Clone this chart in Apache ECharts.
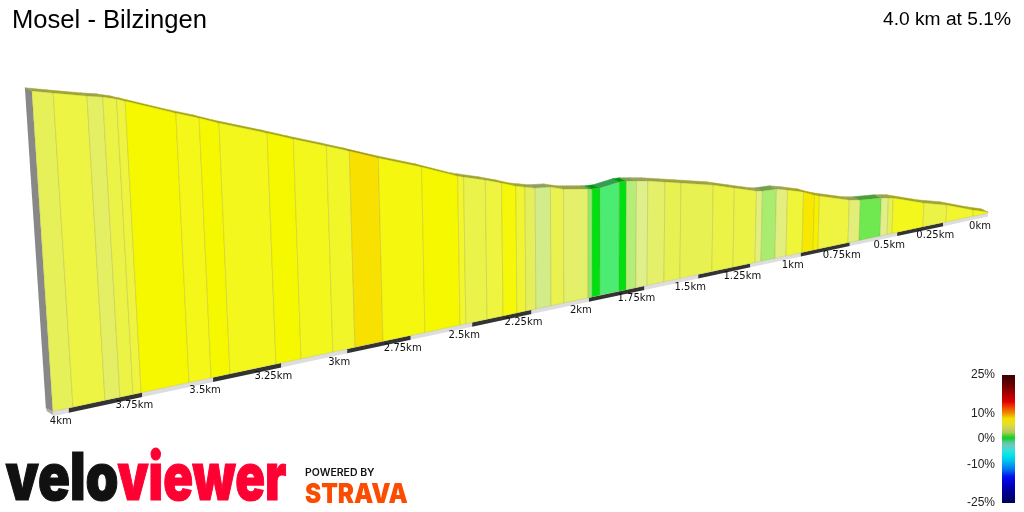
<!DOCTYPE html>
<html lang="en">
<head>
<meta charset="UTF-8">
<title>Mosel - Bilzingen</title>
<script src="https://cdn.jsdelivr.net/npm/echarts@6/dist/echarts.min.js"></script>
<style>
    html, body { margin: 0; padding: 0; background: #fff; }
    #chart { width: 1024px; height: 512px; }
</style>
</head>
<body>
<div id="chart"></div>
<script>
// slice boundaries: distance to the top of the profile (km) and height above the foot (m)
var sliceKm = [4.053, 3.986, 3.878, 3.827, 3.782, 3.754, 3.586, 3.507, 3.439, 3.270, 3.176, 3.055, 2.970,
    2.860, 2.693, 2.550, 2.526, 2.438, 2.371, 2.312, 2.274, 2.231, 2.166, 2.110, 2.004, 1.986, 1.951, 1.866,
    1.834, 1.789, 1.738, 1.660, 1.586, 1.435, 1.334, 1.227, 1.198, 1.129, 1.074, 0.994, 0.938, 0.913, 0.759,
    0.702, 0.591, 0.554, 0.528, 0.361, 0.235, 0.085, 0];
var sliceHeight = [204.1, 201.1, 196.4, 194.5, 192.0, 190.0, 177.7, 172.4, 167.2, 155.9, 149.3, 141.2, 135.3,
    127.4, 116.3, 105.7, 104.4, 99.6, 95.5, 91.5, 89.7, 87.7, 86.4, 83.3, 80.2, 79.6, 79.3, 81.2,
    81.0, 79.7, 78.2, 75.1, 72.2, 66.1, 60.8, 55.3, 54.4, 53.9, 51.5, 47.5, 43.4, 41.9, 34.0,
    32.3, 30.5, 29.4, 28.6, 19.4, 13.9, 5.1, 0.8];
// gradient of each slice (%)
var sliceGradient = [3.7, 4.3, 3.5, 4.2, 4.4, 5.6, 5.1, 5.6, 5, 5.6, 5, 4.8, 7,
    5.3, 5.6, 4.7, 4.1, 4.4, 5.4, 4.6, 3.6, 2.5, 4, 3.4, 1.4, 0, 0.6, 0,
    2.1, 2.9, 3.4, 3.9, 3.9, 4.2, 4.2, 3.1, 1.8, 3.1, 4.5, 6.5, 6, 4.4,
    3.2, 1, 2.9, 3.8, 5, 4.2, 4.7, 5];
var rampValues = [0, 0.6, 1, 1.4, 1.8, 2.1, 2.5, 2.9, 3.2, 3.6, 4, 4.4, 5, 5.6, 6.5, 7];
var rampColors = ['#00e011', '#4ceb72', '#70e850', '#8eea6e', '#aaec6f', '#b5ed78', '#d3ec8a', '#dff08a',
    '#e3ee78', '#e5ef5c', '#e9f24e', '#eef43f', '#f3f71c', '#f6f800', '#f8e800', '#f8e000'];
// distance ticks
var tickKm = [4, 3.75, 3.5, 3.25, 3, 2.75, 2.5, 2.25, 2, 1.75, 1.5, 1.25, 1, 0.75, 0.5, 0.25, 0];
var tickLabels = ['4km', '3.75km', '3.5km', '3.25km', '3km', '2.75km', '2.5km', '2.25km', '2km', '1.75km',
    '1.5km', '1.25km', '1km', '0.75km', '0.5km', '0.25km', '0km'];
// colour scale
var scaleValues = [25, 21, 17.8, 14.6, 12, 10, 8, 6, 4.2, 2.5, 1, 0.3, -1, -2.3, -4, -6.2, -9, -12, -14.7, -18, -22, -25];
var scaleColors = ['#3c0000', '#6a0000', '#a50000', '#e00000', '#f05000', '#f09000', '#f0e000', '#e8e020',
    '#d0d060', '#a8cc50', '#30d030', '#10d020', '#50c890', '#70c8b8', '#40dcd8', '#00e8e8',
    '#00b8f0', '#0070f0', '#0010f0', '#0000c0', '#000080', '#00005a'];
var scaleTicks = [-25, -10, 0, 10, 25];

// perspective of the 3D profile
function scaleAt(km) { return 1 / (1 - 0.05817 * km); }
function baseX(km) { return (988 - 233.8 * km) * scaleAt(km); }
function baseY(km) { return 213 + 0.2122 * (988 - baseX(km)); }
function topPoint(km, h) {
    var height = 1.2 * h * scaleAt(km);
    var x = baseX(km);
    return [x - (590 - x) * height / 8200, baseY(km) - height];
}
function backOf(p) { return [p[0] - 7, p[1] - 3.2]; }

function hexToRgb(c) {
    return [1, 3, 5].map(function (i) { return parseInt(c.substr(i, 2), 16); });
}
function gradientColor(g) {
    var i = 0;
    while (i < rampValues.length - 2 && g > rampValues[i + 1]) i++;
    var t = (g - rampValues[i]) / (rampValues[i + 1] - rampValues[i]);
    var a = hexToRgb(rampColors[i]), b = hexToRgb(rampColors[i + 1]);
    return a.map(function (v, k) { return Math.round(v + (b[k] - v) * t); });
}
function rgb(c, k) {
    return 'rgb(' + c.map(function (v) { return Math.round(v * k); }).join(',') + ')';
}

function polygon(api, pts, style) {
    return {
        type: 'polygon',
        shape: { points: pts.map(function (p) { return api.coord(p); }) },
        style: style
    };
}

var chart = echarts.init(document.getElementById('chart'));

var logoFont = '"Inter", "Roboto", sans-serif';
var options = {
    animation: false,
    title: [
        { text: 'Mosel - Bilzingen', left: 7, top: 3, textStyle: { fontFamily: 'Liberation Sans', fontSize: 25.6, fontWeight: 'normal', color: '#000' } },
        { text: '4.0 km at 5.1%', right: 8, top: 5, textStyle: { fontFamily: 'Liberation Sans', fontSize: 19.2, fontWeight: 'normal', color: '#000' } }
    ],
    grid: [
        { left: 0, right: 0, top: 0, bottom: 0 },
        { left: 1002, width: 13, top: 375, height: 128 }
    ],
    xAxis: [
        { type: 'value', min: 0, max: 1024, show: false, gridIndex: 0 },
        { type: 'value', min: 0, max: 1, show: false, gridIndex: 1 }
    ],
    yAxis: [
        { type: 'value', min: 0, max: 512, inverse: true, show: false, gridIndex: 0 },
        {
            type: 'value', min: -25, max: 25, gridIndex: 1, position: 'left',
            axisLine: { show: false }, axisTick: { show: false }, splitLine: { show: false },
            axisLabel: {
                customValues: scaleTicks, margin: 7, formatter: '{value}%',
                fontFamily: 'Liberation Sans', fontSize: 12, color: '#222'
            }
        }
    ],
    series: [
        {
            // end wall and base slab
            type: 'custom', silent: true, clip: false, data: [0],
            renderItem: function (params, api) {
                var km = sliceKm[0], top = topPoint(km, sliceHeight[0]);
                var foot = [baseX(km), baseY(km)];
                return {
                    type: 'group',
                    children: [
                        polygon(api, [backOf(top), top, foot, backOf(foot)], { fill: '#888' }),
                        polygon(api, [backOf(foot), foot, [foot[0] + 1, foot[1] + 4], [backOf(foot)[0] + 1, backOf(foot)[1] + 3]], { fill: '#aaa' })
                    ]
                };
            }
        },
        {
            // alternating quarter-km bands under the profile
            type: 'custom', silent: true, clip: false, data: tickKm,
            renderItem: function (params, api) {
                var i = params.dataIndex;
                var a = i === 0 ? sliceKm[0] : tickKm[i - 1], b = tickKm[i];
                var dark = i > 0 && (i - 1) % 2 === 0;
                return polygon(api, [
                    [baseX(a), baseY(a)], [baseX(b), baseY(b)],
                    [baseX(b), baseY(b) + 3.6 * scaleAt(b)], [baseX(a), baseY(a) + 3.6 * scaleAt(a)]
                ], { fill: dark ? '#333' : '#ddd' });
            }
        },
        {
            // top surface and front face of every slice
            type: 'custom', silent: true, clip: false, data: sliceGradient,
            renderItem: function (params, api) {
                var i = params.dataIndex;
                var c = gradientColor(api.value(0));
                var a = topPoint(sliceKm[i], sliceHeight[i]), b = topPoint(sliceKm[i + 1], sliceHeight[i + 1]);
                var fa = [baseX(sliceKm[i]), baseY(sliceKm[i])], fb = [baseX(sliceKm[i + 1]), baseY(sliceKm[i + 1])];
                return {
                    type: 'group',
                    children: [
                        polygon(api, [backOf(a), backOf(b), b, a], { fill: rgb(c, 0.68), stroke: rgb(c, 0.68), lineWidth: 0.5 }),
                        polygon(api, [a, b, fb, fa], { fill: rgb(c, 1), stroke: 'rgba(140,140,60,0.22)', lineWidth: 1 })
                    ]
                };
            }
        },
        {
            // km labels
            type: 'custom', silent: true, clip: false, data: tickKm,
            renderItem: function (params, api) {
                var km = api.value(0);
                var p = api.coord([baseX(km) - 8, baseY(km) + 13]);
                return {
                    type: 'text',
                    style: {
                        text: tickLabels[params.dataIndex], x: p[0], y: p[1],
                        align: 'center', verticalAlign: 'middle',
                        font: '10px "DejaVu Sans"', fill: '#111'
                    }
                };
            }
        },
        {
            // colour scale bar
            type: 'custom', silent: true, clip: false, xAxisIndex: 1, yAxisIndex: 1, data: [0],
            renderItem: function (params, api) {
                var t = api.coord([0, 25]), b = api.coord([1, -25]);
                var stops = scaleValues.map(function (v, i) {
                    return { offset: (25 - v) / 50, color: scaleColors[i] };
                });
                return {
                    type: 'rect',
                    shape: { x: t[0], y: t[1], width: b[0] - t[0], height: b[1] - t[1] },
                    style: { fill: new echarts.graphic.LinearGradient(0, 0, 0, 1, stops) }
                };
            }
        }
    ],
    graphic: [
        { type: 'text', left: 5, top: 447, scaleX: 0.8, style: { text: 'velo', font: '900 66px ' + logoFont, fill: '#111', stroke: '#111', lineWidth: 1.2 } },
        { type: 'text', left: 117, top: 447, scaleX: 0.746, style: { text: 'viewer', font: '900 66px ' + logoFont, fill: '#ff0033', stroke: '#ff0033', lineWidth: 1.2 } },
        { type: 'text', left: 305, top: 468, scaleX: 1.05, style: { text: 'POWERED BY', font: '600 10px "Inter"', fill: '#111' } },
        { type: 'text', left: 305, top: 481, scaleX: 0.9, style: { text: 'STRAVA', font: '900 27px "Inter"', fill: '#fc4c02' } }
    ]
};

chart.setOption(options);
</script>
</body>
</html>
